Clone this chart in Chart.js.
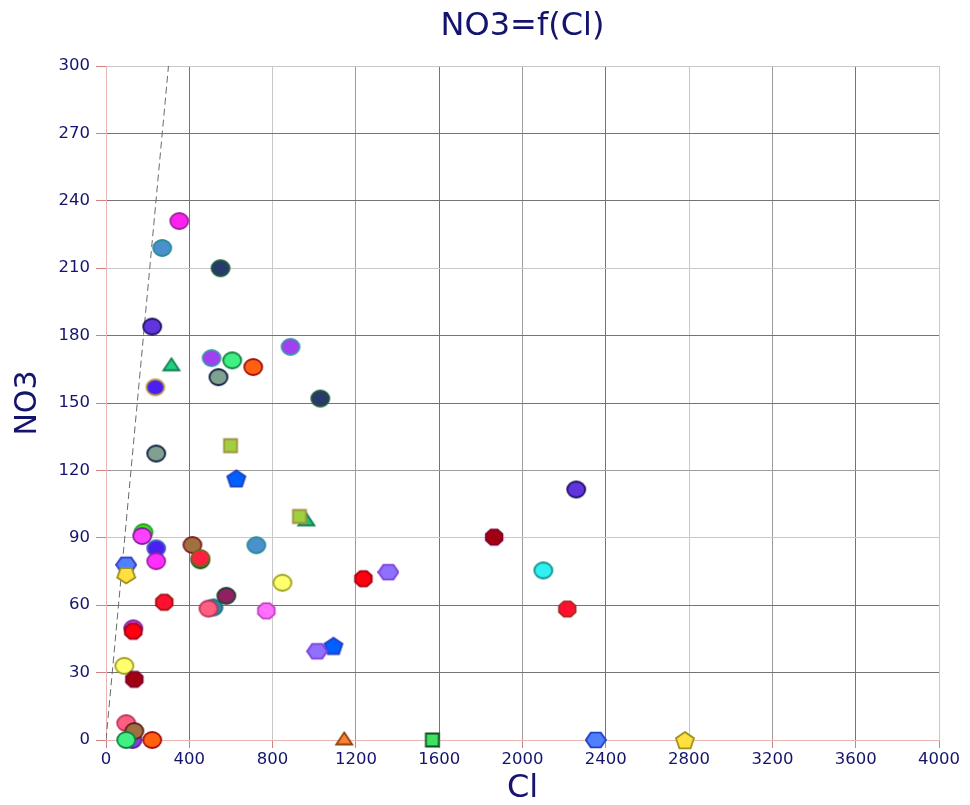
<!DOCTYPE html>
<html>
<head>
<meta charset="utf-8">
<script src="https://cdn.jsdelivr.net/npm/chart.js@4"></script>
<style>
  body { margin: 0; background: #fff; }
  #wrap { width: 970px; height: 805px; }
</style>
</head>
<body>
<div id="wrap"><canvas id="chart" width="970" height="805"></canvas></div>
<script>
// Cl / NO3 samples (points drawn in this order, earlier ones sit underneath)
const clValues = [516, 453, 962, 127, 180, 131,
    352, 270, 550, 222, 314, 507, 606, 707, 540, 886, 1029, 237, 241, 598, 626, 929,
    2258, 1864, 2100, 2215, 2352, 2780, 1144, 1567, 1236, 1356, 1092, 1014, 847, 770,
    722, 578, 492, 415, 453, 280, 174, 241, 241, 97, 97, 131, 88, 136, 97, 136, 97, 222];
const no3Values = [59, 80, 98, 0, 92.5, 49.7,
    231, 219, 210, 184, 167, 170, 169, 166, 161.5, 175, 152, 157, 127.5, 131, 116.5, 99.5,
    111.5, 90.3, 75.5, 58.3, 0, 0, 0.5, 0, 71.8, 74.7, 42, 39.5, 70, 57.5,
    86.7, 64.2, 58.5, 86.8, 81, 61.3, 90.8, 85.3, 79.6, 78, 73, 48.4, 33, 27, 7.5, 4, 0, 0];

// marker look per sample
const markerShape = ['circle', 'circle', 'triangle', 'circle', 'circle', 'circle',
    'circle', 'circle', 'circle', 'circle', 'triangle', 'circle', 'circle', 'circle', 'circle', 'circle', 'circle', 'circle', 'circle', 'square', 'pentagon', 'square',
    'circle', 'octagon', 'circle', 'octagon', 'hexagon', 'pentagon', 'triangle', 'square', 'octagon', 'hexagon', 'pentagon', 'hexagon', 'circle', 'octagon',
    'circle', 'circle', 'circle', 'circle', 'circle', 'octagon', 'circle', 'circle', 'circle', 'hexagon', 'pentagonDown', 'octagon', 'circle', 'octagon', 'circle', 'circle', 'circle', 'circle'];
const markerFill = ['#2a8aa0', '#30a040', '#20c070', '#8040e0', '#40e020', '#e040f0',
    '#ff22ee', '#4a90cc', '#283a6a', '#6035e0', '#20d080', '#a040f0', '#40f080', '#ff6010', '#80a090', '#a040f0', '#283a6a', '#4a20f0', '#80a090', '#a0d040', '#0060ff', '#a0d040',
    '#6035e0', '#a00010', '#30f0f0', '#ff1030', '#5080ff', '#ffe040', '#ff8030', '#40e060', '#ff0010', '#9070ff', '#0060ff', '#9070ff', '#ffff70', '#ff70ff',
    '#4a90cc', '#902060', '#ff6080', '#a07040', '#ff2040', '#ff1030', '#ff40ff', '#4a20f0', '#ff30ff', '#5080ff', '#ffe040', '#ff0010', '#ffff70', '#a00010', '#ff6080', '#a07040', '#40f080', '#ff6010'];
const markerStroke = ['#207080', '#205020', '#108050', '#6020a0', '#20a020', '#8020a0',
    '#a020a0', '#2a8a9a', '#1a5a3a', '#201060', '#108050', '#4090b0', '#108040', '#a01010', '#102040', '#4090b0', '#1a5a3a', '#c0a040', '#102040', '#a09040', '#2040c0', '#a09040',
    '#201060', '#800030', '#109090', '#a03020', '#2040c0', '#a09020', '#904010', '#105020', '#a00010', '#8040e0', '#2040c0', '#8040e0', '#a0a020', '#c040c0',
    '#2a8a9a', '#204030', '#c03060', '#802020', '#806020', '#a01010', '#8020a0', '#4060c0', '#a020a0', '#3040c0', '#a09020', '#a00010', '#a0a020', '#800030', '#c03060', '#602020', '#108040', '#a01010'];

// dashed reference line NO3 = Cl
const refCl = [0, 300];
const refNo3 = [0, 300];

const xTickValues = [0, 400, 800, 1200, 1600, 2000, 2400, 2800, 3200, 3600, 4000];
const yTickValues = [0, 30, 60, 90, 120, 150, 180, 210, 240, 270, 300];

const navy = '#14146e';
const dark = '#747474', mid = '#9c9c9c', light = '#c8c8c8', pink = '#e8b4b4';
const xGridColors = [pink, dark, light, mid, dark, mid, dark, light, mid, dark, light];
const yGridColors = [pink, dark, dark, light, mid, dark, dark, light, dark, dark, light];
const fontFamily = '"DejaVu Sans", Verdana, sans-serif';

// build a small canvas used as point style
function makeMarker(shape, fill, stroke) {
    const c = document.createElement('canvas');
    c.width = 22; c.height = 20;
    const g = c.getContext('2d');
    const cx = 11, cy = 10;
    g.fillStyle = fill;
    g.strokeStyle = stroke;
    g.lineWidth = 1.8;
    g.beginPath();
    if (shape === 'circle') {
        g.ellipse(cx, cy, 9, 8, 0, 0, Math.PI * 2);
    } else if (shape === 'square') {
        g.rect(cx - 6.5, cy - 6.5, 13, 13);
    } else if (shape === 'triangle') {
        g.moveTo(cx, cy - 6.5);
        g.lineTo(cx + 8, cy + 5.5);
        g.lineTo(cx - 8, cy + 5.5);
        g.closePath();
    } else {
        let n, rx, ry, rot, dy = 0;
        if (shape === 'hexagon') { n = 6; rx = 10; ry = 8.5; rot = 0; }
        else if (shape === 'octagon') { n = 8; rx = 9; ry = 8.3; rot = Math.PI / 8; }
        else if (shape === 'pentagon') { n = 5; rx = 9.5; ry = 9; rot = -Math.PI / 2; dy = 1; }
        else { n = 5; rx = 9.5; ry = 8.5; rot = Math.PI / 2; dy = -1; }
        for (let i = 0; i < n; i++) {
            const a = rot + i * 2 * Math.PI / n;
            const px = cx + rx * Math.cos(a), py = cy + dy + ry * Math.sin(a);
            if (i === 0) g.moveTo(px, py); else g.lineTo(px, py);
        }
        g.closePath();
    }
    g.fill();
    g.stroke();
    return c;
}

// title centred over the plot area, like the original
const plotTitle = {
    id: 'plotTitle',
    afterDraw(chart) {
        const ctx = chart.ctx, a = chart.chartArea;
        ctx.save();
        ctx.fillStyle = navy;
        ctx.font = '32px ' + fontFamily;
        ctx.textAlign = 'center';
        ctx.textBaseline = 'alphabetic';
        ctx.fillText('NO3=f(Cl)', (a.left + a.right) / 2, 35);
        ctx.restore();
    }
};

const points = clValues.map((v, i) => ({ x: v, y: no3Values[i] }));
const styles = markerShape.map((s, i) => makeMarker(s, markerFill[i], markerStroke[i]));
const refPoints = refCl.map((v, i) => ({ x: v, y: refNo3[i] }));

const tickFont = { family: fontFamily, size: 16.5 };

new Chart(document.getElementById('chart'), {
    type: 'scatter',
    data: {
        datasets: [
            {
                label: 'NO3',
                data: points,
                pointStyle: styles,
                pointRadius: 9,
                pointHoverRadius: 9,
                clip: false
            },
            {
                label: 'NO3 = Cl',
                type: 'line',
                data: refPoints,
                borderColor: '#6a6a6a',
                borderWidth: 1,
                borderDash: [7, 4],
                pointRadius: 0,
                fill: false
            }
        ]
    },
    options: {
        responsive: false,
        animation: false,
        layout: { padding: { left: 0, right: 31, top: 66, bottom: 0 } },
        plugins: {
            legend: { display: false },
            tooltip: { enabled: false },
            title: { display: false }
        },
        scales: {
            x: {
                type: 'linear',
                min: 0,
                max: 4000,
                afterBuildTicks: function(scale) {
                    scale.ticks = xTickValues.map(v => ({ value: v }));
                },
                afterFit: function(scale) { scale.height = 65; },
                ticks: {
                    color: navy, font: tickFont, padding: 2, maxRotation: 0,
                    callback: v => String(v)
                },
                grid: {
                    color: ctx => xGridColors[ctx.index] || light,
                    tickColor: '#d08080',
                    tickLength: 8,
                    lineWidth: 1
                },
                border: { color: pink },
                title: {
                    display: true,
                    text: 'Cl',
                    color: navy,
                    font: { family: fontFamily, size: 32, lineHeight: 1 },
                    padding: 0
                }
            },
            y: {
                type: 'linear',
                min: 0,
                max: 300,
                afterBuildTicks: function(scale) {
                    scale.ticks = yTickValues.map(v => ({ value: v }));
                },
                afterFit: function(scale) { scale.width = 106; },
                ticks: {
                    color: navy, font: tickFont, padding: 6,
                    callback: v => String(v)
                },
                grid: {
                    color: ctx => yGridColors[ctx.index] || light,
                    tickColor: '#d08080',
                    tickLength: 10,
                    lineWidth: 1
                },
                border: { color: pink },
                title: {
                    display: true,
                    text: 'NO3',
                    color: navy,
                    font: { family: fontFamily, size: 30, lineHeight: 1.2 },
                    padding: { top: 10, bottom: 0 }
                }
            }
        }
    },
    plugins: [plotTitle]
});
</script>
</body>
</html>
